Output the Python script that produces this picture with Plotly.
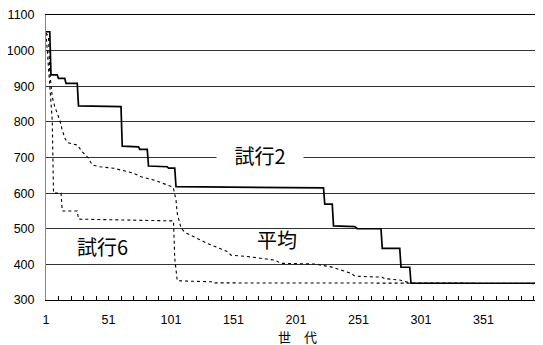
import plotly.graph_objects as go

# 試行2 (solid) – generation / best value breakpoints
trial2_gen = [1, 4, 5, 10, 11, 16, 17, 26, 27, 61, 62, 75, 76, 82, 83, 98, 99, 104, 105,
              223, 224, 230, 231, 248, 250, 269, 270, 284, 285, 292, 293, 400]
trial2_val = [1053, 1053, 932, 932, 922, 922, 908, 908, 845, 843, 732, 730, 723, 723, 676,
              674, 670, 670, 618, 615, 569, 569, 508, 506, 500, 500, 445, 445, 392, 392, 347, 347]

# 試行6 (dotted)
trial6_gen = [1, 2, 4, 6, 7, 13, 14, 26, 27, 103, 104, 106, 134, 135, 400]
trial6_val = [1050, 1000, 900, 805, 600, 600, 550, 550, 527, 522, 417, 354, 351, 348, 347]

# 平均 (dotted)
avg_gen = [1, 3, 4, 6, 8, 10, 12, 14, 16, 18, 22, 26, 30, 35, 38, 44, 55, 61, 71, 77, 87, 98,
           102, 103, 105, 106, 109, 112, 117, 125, 130, 146, 149, 162, 184, 189, 216, 229,
           237, 245, 248, 270, 272, 284, 293, 400]
avg_val = [1050, 1040, 940, 870, 843, 824, 805, 777, 755, 742, 738, 735, 716, 698, 679, 674,
           670, 665, 656, 646, 637, 623, 618, 613, 581, 543, 502, 490, 482, 468, 459, 436, 426,
           422, 412, 403, 401, 393, 384, 375, 367, 364, 360, 356, 347, 346]

x_tick_vals = [1, 51, 101, 151, 201, 251, 301, 351]
y_tick_vals = [300, 400, 500, 600, 700, 800, 900, 1000, 1100]

JP = "Noto Sans CJK JP"
LAT = "Liberation Sans"

fig = go.Figure()
fig.add_trace(go.Scatter(x=avg_gen, y=avg_val, mode="lines", name="平均",
                         line=dict(color="black", width=1.1, dash="dot")))
fig.add_trace(go.Scatter(x=trial6_gen, y=trial6_val, mode="lines", name="試行6",
                         line=dict(color="black", width=1.1, dash="dot")))
fig.add_trace(go.Scatter(x=trial2_gen, y=trial2_val, mode="lines", name="試行2",
                         line=dict(color="black", width=1.7)))

# the page body adds an 8px offset, so the figure is sized to fill the rest of the window
fig.update_layout(
    width=535, height=337,
    margin=dict(l=38, r=1, t=7, b=45),
    paper_bgcolor="white", plot_bgcolor="white",
    showlegend=False,
    font=dict(family=LAT, size=12, color="black"),
    xaxis=dict(
        range=[1, 397.8],
        tickvals=x_tick_vals,
        ticks="inside", ticklen=4, tickcolor="black", tickwidth=1,
        minor=dict(dtick=10, tick0=1, ticks="inside", ticklen=4, tickcolor="black"),
        showgrid=False, zeroline=False,
        showline=True, linecolor="black", linewidth=1, mirror=True,
        ticklabelstandoff=8,
        tickfont=dict(family=LAT, size=12.5, color="black"),
        automargin=False,
    ),
    yaxis=dict(
        range=[300, 1100],
        tickvals=y_tick_vals,
        ticks="", showgrid=True, gridcolor="#333333", gridwidth=1,
        zeroline=False,
        showline=True, linecolor="#888888", linewidth=1,
        ticklabelstandoff=8,
        tickfont=dict(family=LAT, size=12.5, color="black"),
        automargin=False,
    ),
    annotations=[
        dict(x=172, y=707, xref="x", yref="y", text="試行2", showarrow=False,
             font=dict(family=JP, size=20, color="black"),
             bgcolor="white", width=84, height=24, align="center"),
        dict(x=186, y=471, xref="x", yref="y", text="平均", showarrow=False,
             font=dict(family=JP, size=20, color="black")),
        dict(x=46, y=450, xref="x", yref="y", text="試行6", showarrow=False,
             font=dict(family=JP, size=20, color="black")),
        dict(x=0.508, y=-0.128, xref="paper", yref="paper", text="世　代", showarrow=False,
             xanchor="center", yanchor="middle",
             font=dict(family=JP, size=13, color="black")),
    ],
)

fig.write_html("out.html")
